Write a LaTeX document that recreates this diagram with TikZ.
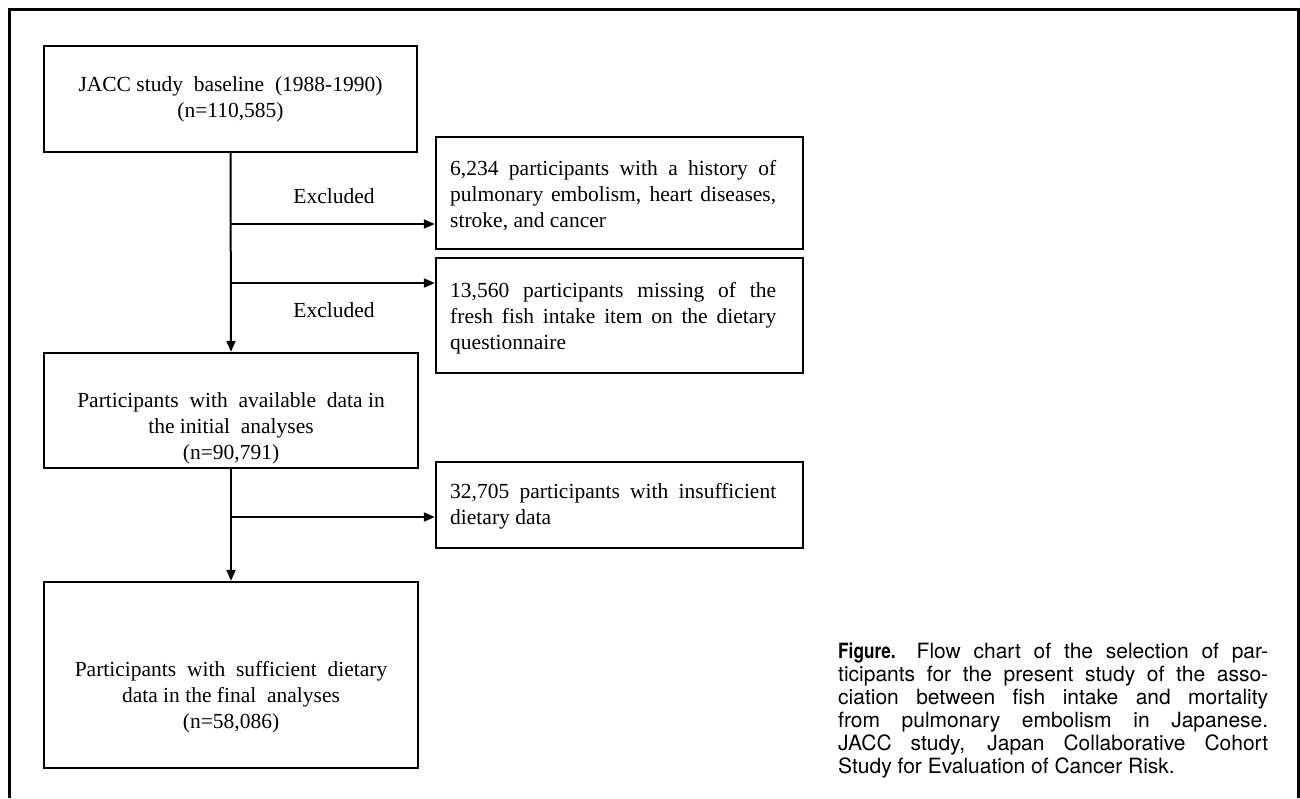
\documentclass[tikz,border=0pt]{standalone}
\usepackage{fontspec}
\setmainfont{Liberation Serif}
\newfontfamily\capfont{TeX Gyre Heros}
\newfontfamily\figfont[FakeStretch=0.82]{TeX Gyre Heros}
\usetikzlibrary{arrows.meta}
\usetikzlibrary{positioning}

\begin{document}
\begin{tikzpicture}[x=1pt,y=-1pt]
  \tikzset{box/.style = {shape=rectangle,draw,line width=2.4pt,inner sep=0pt}}
  \tikzset{boxtext/.style = {font=\fontsize{21.5}{26}\selectfont,inner sep=0pt}}
  \tikzset{sidetext/.style = {boxtext,anchor=west,text width=326pt,align=justify}}
  \tikzset{edge/.style = {-flowtip,line width=2pt}}
  \tikzset{%
  flowtip/.tip={Triangle[length=11pt,width=9pt]},
}

  \useasboundingbox (0,0) rectangle (1300,798);
  \draw[line width=3pt] (9.5,798) -- (9.5,9.5) -- (1298.5,9.5) -- (1298.5,798);

	\node[box,minimum width=373pt,minimum height=106pt] (B1) at (230.5,99) {};
	\node[box,minimum width=374pt,minimum height=115pt] (B2) at (231,410.5) {};
	\node[box,minimum width=374pt,minimum height=186pt] (B3) at (231,675) {};

	\node[box,minimum width=367pt,minimum height=112pt] (E1) at (619.5,193) {};
	\node[box,minimum width=367pt,minimum height=115pt] (E2) at (619.5,315.5) {};
	\node[box,minimum width=367pt,minimum height=86pt] (E3) at (619.5,505) {};

	\node[boxtext,align=center] (B1t) at (B1.center) {JACC study\ \ baseline\ \ (1988-1990)\\(n=110,585)};
	\node[boxtext,align=center] (B2t) at (231,428) {Participants\ \ with\ \ available\ \ data in\\the initial\ \ analyses\\(n=90,791)};
	\node[boxtext,align=center] (B3t) at (231,697) {Participants\ \ with\ \ sufficient\ \ dietary\\data in the final\ \ analyses\\(n=58,086)};

	\node[sidetext] (E1t) at (450,196) {6,234 participants with a history of\linebreak pulmonary embolism, heart diseases,\linebreak stroke, and cancer};
	\node[sidetext] (E2t) at (450,318) {13,560 participants missing of the\linebreak fresh fish intake item on the dietary\linebreak questionnaire};
	\node[sidetext] (E3t) at (450,506) {32,705 participants with insufficient\linebreak dietary data};

	\node[boxtext] (X1) at (334,196) {Excluded};
	\node[boxtext] (X2) at (334,310) {Excluded};

	\coordinate (J1) at (231,224);
	\coordinate (J2) at (231,283);
	\coordinate (J3) at (231,517);

    \draw[edge] (B1.south) -- (B2.north);
    \draw[edge] (B2.south) -- (B3.north);

    \foreach \from/\to in {J1/E1,J2/E2,J3/E3}
    \draw[edge] (\from) -- (\from -| \to.west);

	\node[anchor=north west,inner sep=0pt,text width=430pt,align=justify,font=\capfont\fontsize{21}{23}\selectfont] (cap) at (838,643) {{\figfont\bfseries Figure.}\quad Flow chart of the selection of par-\linebreak ticipants for the present study of the asso-\linebreak ciation between fish intake and mortality\linebreak from pulmonary embolism in Japanese.\linebreak JACC study, Japan Collaborative Cohort\linebreak Study for Evaluation of Cancer Risk.};

\end{tikzpicture}
\end{document}
